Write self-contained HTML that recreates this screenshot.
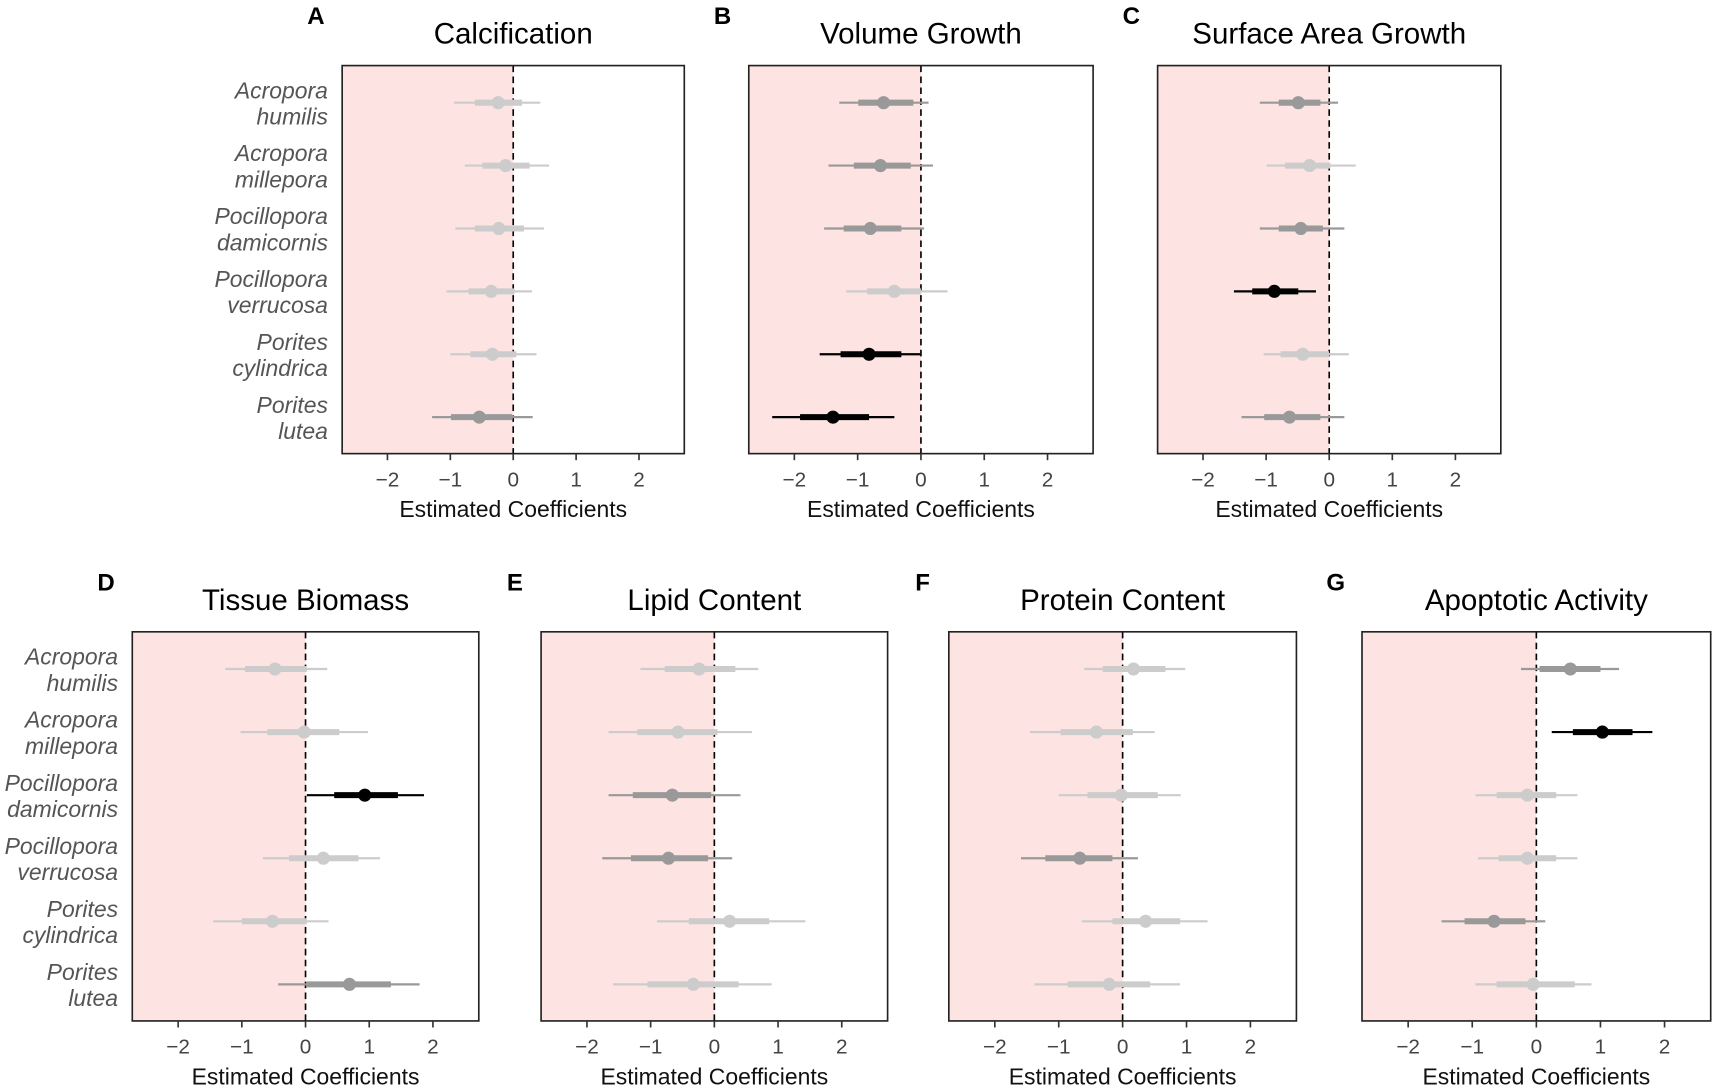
<!DOCTYPE html>
<html><head><meta charset="utf-8"><style>
html,body{margin:0;padding:0;background:#fff;}
svg{display:block;font-family:"Liberation Sans",Arial,sans-serif;}
</style></head><body>
<svg id="fig" width="1714" height="1085" viewBox="0 0 1568 992.6" xmlns="http://www.w3.org/2000/svg"></svg>
<script>
const titles=["Calcification","Volume Growth","Surface Area Growth","Tissue Biomass","Lipid Content","Protein Content","Apoptotic Activity"];
const letters=["A","B","C","D","E","F","G"];
const species=[["Acropora","humilis"],["Acropora","millepora"],["Pocillopora","damicornis"],["Pocillopora","verrucosa"],["Porites","cylindrica"],["Porites","lutea"]];
const ticks=[-2,-1,0,1,2];
const means=[
[-0.24,-0.12,-0.23,-0.35,-0.33,-0.54],
[-0.59,-0.64,-0.80,-0.42,-0.82,-1.39],
[-0.49,-0.31,-0.45,-0.87,-0.42,-0.63],
[-0.48,-0.02,0.93,0.28,-0.52,0.69],
[-0.24,-0.57,-0.66,-0.72,0.24,-0.33],
[0.17,-0.41,-0.02,-0.67,0.36,-0.21],
[0.53,1.03,-0.14,-0.14,-0.66,-0.05]];
const innerLo=[
[-0.61,-0.49,-0.61,-0.71,-0.68,-0.99],
[-0.99,-1.06,-1.22,-0.85,-1.27,-1.91],
[-0.80,-0.70,-0.80,-1.22,-0.77,-1.03],
[-0.95,-0.60,0.45,-0.26,-1.00,0.02],
[-0.78,-1.21,-1.28,-1.31,-0.40,-1.05],
[-0.31,-0.97,-0.55,-1.21,-0.16,-0.86],
[0.05,0.57,-0.62,-0.59,-1.12,-0.62]];
const innerHi=[
[0.14,0.26,0.17,0.02,0.05,-0.02],
[-0.12,-0.16,-0.31,0.00,-0.31,-0.82],
[-0.14,0.02,-0.10,-0.49,0.00,-0.14],
[0.02,0.53,1.45,0.83,0.02,1.34],
[0.33,0.05,-0.05,-0.10,0.86,0.38],
[0.67,0.16,0.55,-0.16,0.90,0.43],
[1.00,1.50,0.31,0.31,-0.17,0.60]];
const outerLo=[
[-0.94,-0.77,-0.92,-1.06,-1.00,-1.29],
[-1.29,-1.46,-1.53,-1.18,-1.60,-2.35],
[-1.10,-0.99,-1.10,-1.51,-1.04,-1.39],
[-1.26,-1.02,0.02,-0.67,-1.45,-0.43],
[-1.16,-1.66,-1.66,-1.76,-0.90,-1.59],
[-0.60,-1.45,-1.00,-1.59,-0.64,-1.38],
[-0.24,0.24,-0.95,-0.91,-1.48,-0.95]];
const outerHi=[
[0.43,0.57,0.49,0.30,0.37,0.31],
[0.12,0.19,0.05,0.42,0.00,-0.42],
[0.14,0.42,0.24,-0.21,0.31,0.24],
[0.34,0.98,1.86,1.17,0.36,1.79],
[0.69,0.59,0.41,0.28,1.43,0.90],
[0.98,0.50,0.91,0.24,1.33,0.90],
[1.29,1.81,0.64,0.64,0.14,0.86]];
const tones=[
[0,0,0,0,0,1],
[1,1,1,0,2,2],
[1,0,1,2,0,1],
[0,0,2,0,0,1],
[0,0,1,1,0,0],
[0,0,0,1,0,0],
[1,2,0,0,1,0]];
const toneColor=["#cccccc","#999999","#000000"];
const NS="http://www.w3.org/2000/svg";
const svg=document.getElementById('fig');
function mk(tag,attrs,parent){const e=document.createElementNS(NS,tag);for(const k in attrs)e.setAttribute(k,attrs[k]);(parent||svg).appendChild(e);return e;}
const panels=[
{l:313,r:626,t:60,b:415,ylab:true},
{l:685,r:1000,t:60,b:415},
{l:1059,r:1373,t:60,b:415},
{l:121,r:438,t:578,b:934,ylab:true},
{l:495,r:812,t:578,b:934},
{l:868,r:1186,t:578,b:934},
{l:1246,r:1565,t:578,b:934}];
const XMIN=-2.72,XMAX=2.72;
panels.forEach((p,i)=>{
  const g=mk('g',{});
  
  
  const x=v=>p.l+(v-XMIN)/(XMAX-XMIN)*(p.r-p.l);
  const rowH=(p.b-p.t)/6.17;
  const y=k=>p.t+rowH*(0.59+k);
  const cx=(p.l+p.r)/2;
  const pink=mk('rect',{x:p.l,y:p.t,width:x(0)-p.l,height:p.b-p.t,fill:'#fde3e1'},g);
  
  
  const zl=mk('line',{x1:x(0),x2:x(0),y1:p.t,y2:p.b,stroke:'#000','stroke-width':1.5,'stroke-dasharray':'6,4'},g);
  
  
  for(let k=0;k<6;k++){
    const c=toneColor[tones[i][k]];
    const o=mk('line',{x1:x(outerLo[i][k]),x2:x(outerHi[i][k]),y1:y(k),y2:y(k),stroke:c,'stroke-width':2},g);
    
    
    const n=mk('line',{x1:x(innerLo[i][k]),x2:x(innerHi[i][k]),y1:y(k),y2:y(k),stroke:c,'stroke-width':5.5},g);
    
    
    const d=mk('circle',{cx:x(means[i][k]),cy:y(k),r:6,fill:c},g);
    
    
    if(p.ylab){
      const t=mk('text',{x:p.l-13,'text-anchor':'end','font-size':21,'font-style':'italic',fill:'#555'},g);
      
      
      const a=mk('tspan',{x:p.l-13,y:y(k)-4},t);a.textContent=species[k][0];
      const b=mk('tspan',{x:p.l-13,y:y(k)+20},t);b.textContent=species[k][1];
    }
  }
  const fr=mk('rect',{x:p.l,y:p.t,width:p.r-p.l,height:p.b-p.t,fill:'none',stroke:'#222','stroke-width':1.5},g);
  
  
  ticks.forEach(v=>{
    const tl=mk('line',{x1:x(v),x2:x(v),y1:p.b,y2:p.b+6,stroke:'#333','stroke-width':1.5},g);
    
    
    const tt=mk('text',{x:x(v),y:p.b+30,'text-anchor':'middle','font-size':19,fill:'#444'},g);
    
    
    tt.textContent=v<0?'\u2212'+(-v):String(v);
  });
  const xl=mk('text',{x:cx,y:p.b+58,'text-anchor':'middle','font-size':21,fill:'#111'},g);
  
  
  xl.textContent='Estimated Coefficients';
  const ti=mk('text',{x:cx,y:p.t-20,'text-anchor':'middle','font-size':27,fill:'#000'},g);
  
  
  ti.textContent=titles[i];
  const le=mk('text',{x:p.l-24,y:p.t-38,'text-anchor':'middle','font-size':22,'font-weight':'bold',fill:'#000'},g);
  
  
  le.textContent=letters[i];
});
</script>
</body></html>
